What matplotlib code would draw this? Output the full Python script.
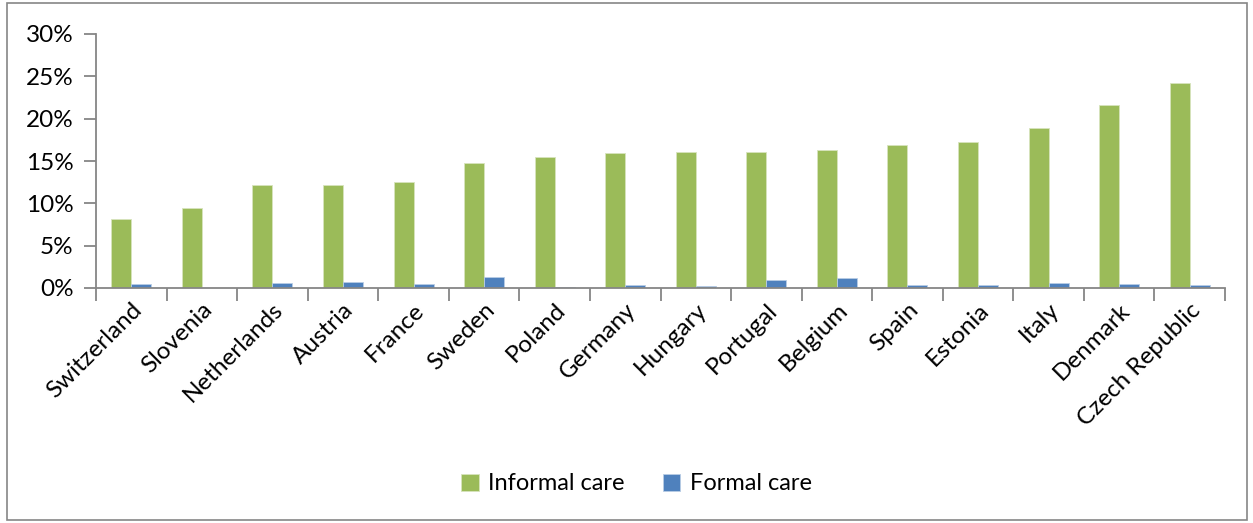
import matplotlib
matplotlib.use("Agg")
import matplotlib.pyplot as plt
from matplotlib.patches import Rectangle
from matplotlib.ticker import PercentFormatter, FixedLocator
import numpy as np

plt.rcParams["font.family"] = ["Lato", "DejaVu Sans"]

countries = ["Switzerland", "Slovenia", "Netherlands", "Austria", "France", "Sweden",
             "Poland", "Germany", "Hungary", "Portugal", "Belgium", "Spain", "Estonia",
             "Italy", "Denmark", "Czech Republic"]
informal = [8.2, 9.45, 12.2, 12.2, 12.5, 14.75, 15.45, 15.9, 16.05, 16.1, 16.3,
            16.9, 17.3, 18.95, 21.6, 24.25]
formal = [0.45, 0.05, 0.55, 0.65, 0.45, 1.35, 0.1, 0.3, 0.25, 0.9, 1.2,
          0.3, 0.3, 0.6, 0.45, 0.4]

GREEN = "#9bbb59"
BLUE = "#4f81bd"

fig = plt.figure(figsize=(12.53, 5.23), dpi=100)
ax = fig.add_axes([96 / 1253, 1 - 288 / 523, (1225 - 96) / 1253, (288 - 34) / 523])

x = np.arange(len(countries))
w = 0.283
ax.bar(x - w / 2, informal, w, color=GREEN, edgecolor="#d7e4bd", linewidth=0.6, label="Informal care")
ax.bar(x + w / 2, formal, w, color=BLUE, edgecolor="#b9cde5", linewidth=0.6, label="Formal care")

ax.set_xlim(-0.5, len(countries) - 0.5)
ax.set_ylim(0, 30)
ax.yaxis.set_major_locator(FixedLocator(range(0, 31, 5)))
ax.yaxis.set_major_formatter(PercentFormatter(decimals=0))

ax.set_xticks(x)
ax.set_xticklabels(countries, rotation=45, ha="right", rotation_mode="anchor", fontsize=17.5)
ax.xaxis.set_minor_locator(FixedLocator(np.arange(-0.5, len(countries), 1)))
ax.tick_params(axis="x", which="major", length=0, pad=8)
ax.tick_params(axis="x", which="minor", length=9, color="#868686", width=1.3)
ax.tick_params(axis="y", length=9, color="#868686", width=1.3, labelsize=17.5, pad=7)

for s in ["top", "right"]:
    ax.spines[s].set_visible(False)
for s in ["left", "bottom"]:
    ax.spines[s].set_color("#868686")
    ax.spines[s].set_linewidth(1.3)

fig.legend(loc="center", bbox_to_anchor=(0.508, 1 - 484 / 523), ncol=2, frameon=False,
           fontsize=17, handlelength=0.75, handleheight=0.75, columnspacing=1.6, handletextpad=0.4)

fig.patches.append(Rectangle((7 / 1253, 3 / 523), 1240 / 1253, 517 / 523, transform=fig.transFigure,
                             fill=False, edgecolor="#868686", linewidth=1.2))

fig.savefig("out.png", dpi=100)
